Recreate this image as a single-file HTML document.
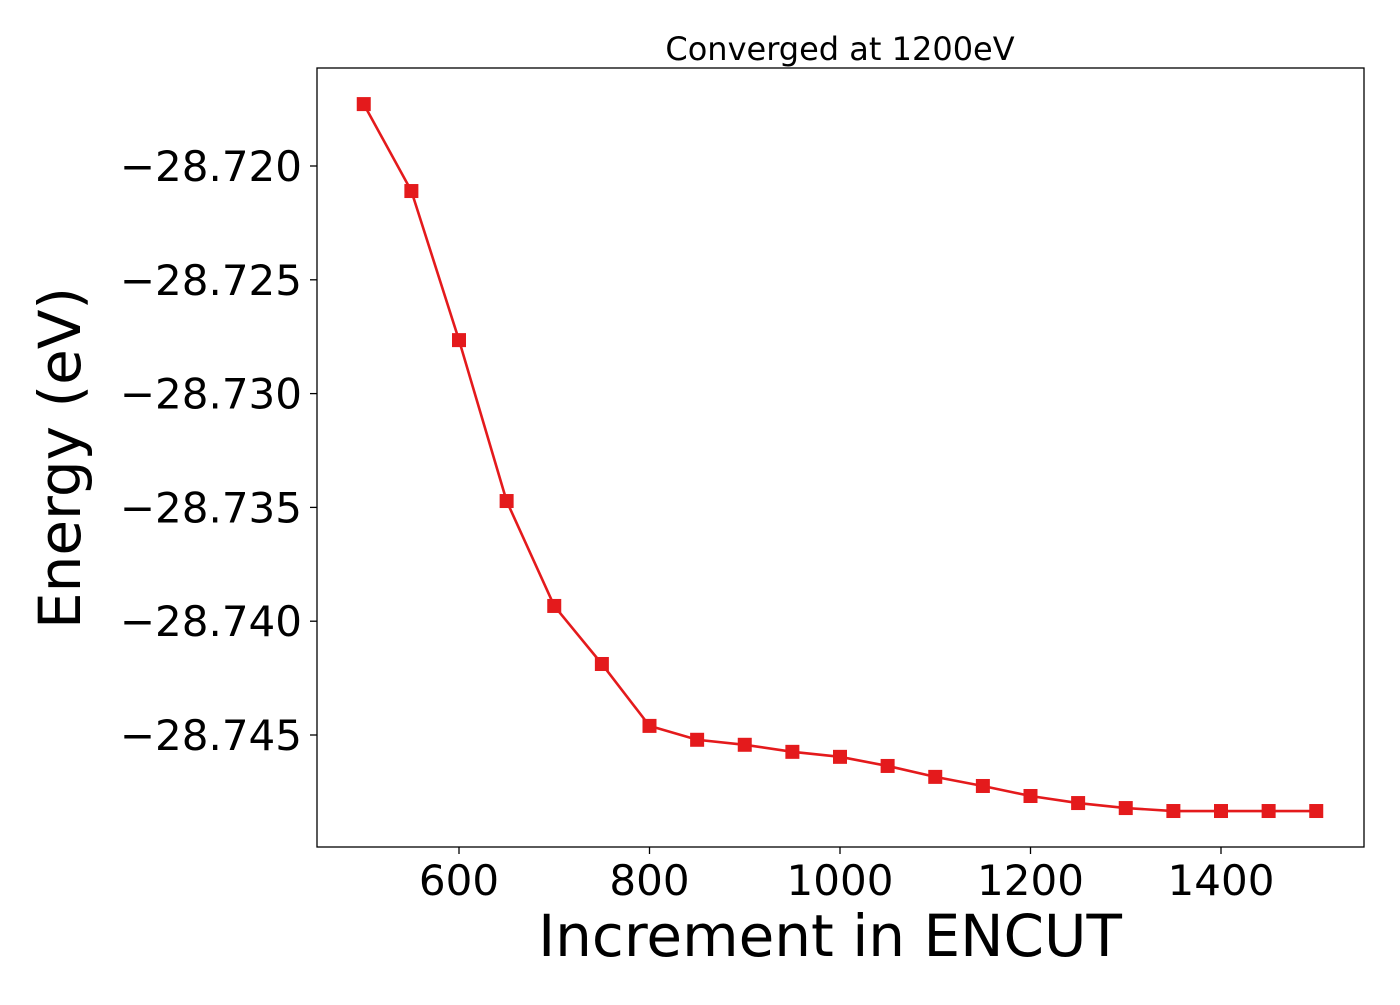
<!DOCTYPE html>
<html><head><meta charset="utf-8"><style>
body{margin:0;background:#fff;}
svg text{font-family:"DejaVu Sans","Liberation Sans",sans-serif;fill:#000;}
</style></head><body>
<svg id="chart" width="1400" height="1000" xmlns="http://www.w3.org/2000/svg">
<rect width="1400" height="1000" fill="#fff"/>
<g id="ticks"></g>
<g id="series"></g>
<rect x="317" y="68" width="1047" height="779" fill="none" stroke="#000" stroke-width="1.3"/>
<text x="840" y="60" font-size="32" text-anchor="middle">Converged at 1200eV</text>
<text x="830" y="956" font-size="58" text-anchor="middle">Increment in ENCUT</text>
<text transform="translate(80,458) rotate(-90)" font-size="58" text-anchor="middle">Energy (eV)</text>
</svg>
<script>
const encut=[500,550,600,650,700,750,800,850,900,950,1000,1050,1100,1150,1200,1250,1300,1350,1400,1450,1500];
const energy=[-28.71728,-28.72110,-28.72765,-28.73472,-28.73933,-28.74188,-28.74460,-28.74521,-28.74543,-28.74574,-28.74596,-28.74636,-28.74684,-28.74724,-28.74768,-28.74799,-28.74821,-28.74834,-28.74834,-28.74834,-28.74834];
const xTicks=[600,800,1000,1200,1400];
const yTicks=[-28.720,-28.725,-28.730,-28.735,-28.740,-28.745];
const yTickLabels=["\u221228.720","\u221228.725","\u221228.730","\u221228.735","\u221228.740","\u221228.745"];
const NS="http://www.w3.org/2000/svg";
function xs(v){return 459+(v-600)*0.9525;}
function ys(v){return 166+(-28.720-v)/0.005*113.8;}
const tg=document.getElementById('ticks');
xTicks.forEach(t=>{
  const l=document.createElementNS(NS,'line');
  l.setAttribute('x1',xs(t));l.setAttribute('x2',xs(t));l.setAttribute('y1',847);l.setAttribute('y2',854);l.setAttribute('stroke','#000');l.setAttribute('stroke-width','1.3');
  
  
  tg.appendChild(l);
  const tx=document.createElementNS(NS,'text');
  tx.setAttribute('x',xs(t));tx.setAttribute('y',895);tx.setAttribute('font-size','42');tx.setAttribute('text-anchor','middle');
  tx.textContent=t;
  
  
  tg.appendChild(tx);
});
yTicks.forEach((t,i)=>{
  const l=document.createElementNS(NS,'line');
  l.setAttribute('x1',310);l.setAttribute('x2',317);l.setAttribute('y1',ys(t));l.setAttribute('y2',ys(t));l.setAttribute('stroke','#000');l.setAttribute('stroke-width','1.3');
  
  
  tg.appendChild(l);
  const tx=document.createElementNS(NS,'text');
  tx.setAttribute('x',302);tx.setAttribute('y',ys(t)+15);tx.setAttribute('font-size','42');tx.setAttribute('text-anchor','end');
  tx.textContent=yTickLabels[i];
  
  
  tg.appendChild(tx);
});
const sg=document.getElementById('series');
const pl=document.createElementNS(NS,'polyline');
pl.setAttribute('points',encut.map((x,i)=>xs(x)+','+ys(energy[i])).join(' '));
pl.setAttribute('fill','none');pl.setAttribute('stroke','#e41a1c');pl.setAttribute('stroke-width','2.6');


sg.appendChild(pl);
encut.forEach((x,i)=>{
  const r=document.createElementNS(NS,'rect');
  r.setAttribute('x',xs(x)-7);r.setAttribute('y',ys(energy[i])-7);r.setAttribute('width',14);r.setAttribute('height',14);r.setAttribute('fill','#e41a1c');
  
  
  sg.appendChild(r);
});
</script>
</body></html>
